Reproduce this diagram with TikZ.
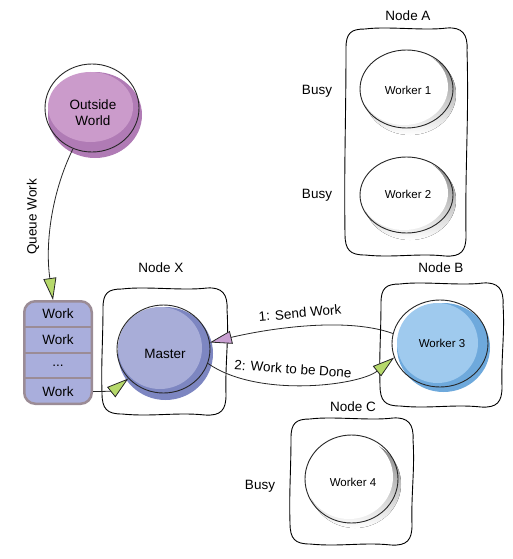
\documentclass[tikz,border=0pt]{standalone}
\usepackage{fontspec}
\setmainfont{Liberation Sans}
\usetikzlibrary{arrows.meta,shapes.geometric,calc}
\definecolor{owlight}{HTML}{CB9BCB}
\definecolor{owdark}{HTML}{B07BB5}
\definecolor{mlight}{HTML}{A8ADD8}
\definecolor{mdark}{HTML}{7D86C1}
\definecolor{wlight}{HTML}{9FCAEE}
\definecolor{wdark}{HTML}{6EA9DC}
\definecolor{shade}{HTML}{E2E3F3}
\definecolor{qfill}{HTML}{A9AEDC}
\definecolor{qborder}{HTML}{9B8C96}
\definecolor{tipgreen}{HTML}{B6D96B}
\definecolor{tippurple}{HTML}{C9A0D2}
\newcommand\skbox[4]{%
\draw[boxline] ({#1+20},{#2+1})
 .. controls ({#1+0.35*(#3-#1)},{#2-2}) and ({#1+0.65*(#3-#1)},{#2+3}) .. ({#3-20},{#2})
 .. controls ({#3-5},{#2-1}) and ({#3+1},{#2+6}) .. ({#3},{#2+22})
 .. controls ({#3+2},{#2+0.4*(#4-#2)}) and ({#3-2},{#2+0.6*(#4-#2)}) .. ({#3-1},{#4-20})
 .. controls ({#3-1},{#4-5}) and ({#3-6},{#4+1}) .. ({#3-22},{#4})
 .. controls ({#1+0.6*(#3-#1)},{#4-3}) and ({#1+0.4*(#3-#1)},{#4+2}) .. ({#1+20},{#4-1})
 .. controls ({#1+5},{#4-1}) and ({#1},{#4-6}) .. ({#1},{#4-22})
 .. controls ({#1-1},{#2+0.6*(#4-#2)}) and ({#1+1},{#2+0.4*(#4-#2)}) .. ({#1+1},{#2+20})
 .. controls ({#1+1},{#2+5}) and ({#1+6},{#2+1}) .. ({#1+20},{#2+1}) -- cycle;}
\begin{document}
\begin{tikzpicture}[x=1pt,y=-1pt,
  lbl/.style={font=\fontsize{13.5}{16}\selectfont, inner sep=1pt},
  wlbl/.style={font=\fontsize{11.5}{14}\selectfont, inner sep=1pt},
  blob/.style={ellipse, draw=black!85, line width=0.9pt, inner sep=0pt},
  boxline/.style={draw=black, line width=0.9pt},
  conn/.style={draw=black!85, line width=0.8pt},
  greentip/.style={-{Triangle[length=22pt,width=13pt,fill=tipgreen]}},
  purpletip/.style={-{Triangle[length=22pt,width=13pt,fill=tippurple]}},
  qrow/.style={font=\fontsize{13.5}{16}\selectfont, minimum width=70pt, minimum height=26pt, inner sep=0pt},
  qdiv/.style={draw=qborder, line width=2.5pt}
]
\useasboundingbox (0,0) rectangle (513,559);

% node boxes
\skbox{102}{288}{227}{415}
\skbox{345}{28}{467}{256}
\skbox{380}{283}{503}{407}
\skbox{290}{418}{413}{545}

% box labels
\node[lbl] (lx) at (161,268) {Node X};
\node[lbl] (la) at (408,16) {Node A};
\node[lbl] (lb) at (441,268) {Node B};
\node[lbl] (lc) at (353,407) {Node C};
\node[lbl] (busy1) at (317,91) {Busy};
\node[lbl] (busy2) at (317,195) {Busy};
\node[lbl] (busy4) at (260,486) {Busy};

% Outside World
\fill[owdark] (95,115) ellipse [x radius=47, y radius=43];
\fill[owlight] (90.5,107) ellipse [x radius=42.5, y radius=35];
\node[blob, minimum width=94pt, minimum height=88pt] (ow) at (92,108) {};
\node[lbl, align=center] (owt) at (93,113) {Outside\\World};

% Master
\fill[mdark] (165.5,353.5) ellipse [x radius=47.5, y radius=46.5];
\fill[mlight] (160,348) ellipse [x radius=42, y radius=41];
\node[blob, minimum width=93pt, minimum height=88pt] (master) at (163.5,349) {};
\node[lbl] (mt) at (165,354) {Master};

% Worker 3
\fill[wdark] (443.5,347.5) ellipse [x radius=46.5, y radius=44.5];
\fill[wlight] (437.5,343) ellipse [x radius=40.5, y radius=40];
\node[blob, minimum width=96pt, minimum height=87pt] (w3) at (440,343.5) {};
\node[wlbl] (w3t) at (442,343) {Worker 3};

% Worker 1
\fill[shade] (410,94) ellipse [x radius=46, y radius=41];
\fill[white] (404,87) ellipse [x radius=44, y radius=38];
\node[blob, minimum width=93pt, minimum height=78pt] (w1) at (406.5,89) {};
\node[wlbl] (w1t) at (408,90) {Worker 1};

% Worker 2
\fill[shade] (410,200) ellipse [x radius=46, y radius=40];
\fill[white] (404,193) ellipse [x radius=44, y radius=37];
\node[blob, minimum width=93pt, minimum height=76pt] (w2) at (406.5,195) {};
\node[wlbl] (w2t) at (408,194) {Worker 2};

% Worker 4
\fill[shade] (355,484) ellipse [x radius=46, y radius=44];
\fill[white] (349,477) ellipse [x radius=44, y radius=42];
\node[blob, minimum width=93pt, minimum height=88pt] (w4) at (351.5,479) {};
\node[wlbl] (w4t) at (353,482) {Worker 4};

% Queue
\node[draw=qborder, fill=qfill, line width=2.5pt, rounded corners=11pt,
      minimum width=67.5pt, minimum height=102.5pt, inner sep=0pt] (q) at (58,352.5) {};
\draw[qdiv] (24.5,327) -- (91.5,327);
\draw[qdiv] (24.5,353) -- (91.5,353);
\draw[qdiv] (24.5,378) -- (91.5,378);
\node[qrow] (q1) at (58,313.5) {Work};
\node[qrow] (q2) at (58,340) {Work};
\node[qrow] (q3) at (58,365.5) {...};
\node[qrow] (q4) at (58,391.5) {Work};

% connectors
\draw[conn, greentip] (ow.245) .. controls +(-22,45) and +(-8,-55) .. ([xshift=-5pt]q.north);
\node[lbl, rotate=90] (qw) at (33,217) {Queue Work};

\draw[conn, greentip] (q4.east) .. controls +(20,0) and +(-15,12) .. (master.220);

\draw[conn, purpletip] (w3.168) .. controls +(-50,-18) and +(50,-12) .. (master.8);
\node[lbl, rotate=5] (l1) at (300,313) {1: Send Work};

\draw[conn, greentip] (master.-18) .. controls +(50,35) and +(-35,28) .. (w3.197);
\node[lbl, rotate=-4] (l2) at (293,369) {2: Work to be Done};
\end{tikzpicture}
\end{document}
